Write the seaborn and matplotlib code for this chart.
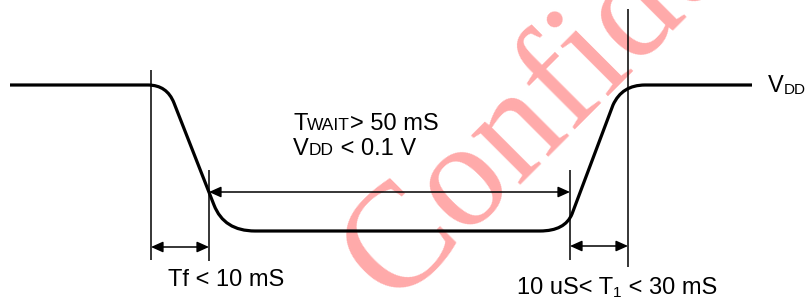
import seaborn as sns
import matplotlib.pyplot as plt
from matplotlib.path import Path
from matplotlib.patches import PathPatch

# waveform key points (pixel space, y down): high level -> fall -> low level -> rise -> high level
wave_t = [10, 148, 167, 174, 214, 224, 255, 540, 565, 572, 613, 622, 645, 752]
wave_v = [85, 85, 85, 103, 205, 231, 231, 231, 231, 214, 105, 85, 85, 85]
wave_codes = [Path.MOVETO, Path.LINETO, Path.CURVE3, Path.CURVE3, Path.LINETO,
              Path.CURVE3, Path.CURVE3, Path.LINETO, Path.CURVE3, Path.CURVE3,
              Path.LINETO, Path.CURVE3, Path.CURVE3, Path.LINETO]

# timing markers
marker_x = [151, 209, 570, 628]
marker_top = [70, 170, 170, 9]
marker_bottom = [260, 261, 260, 267]

# dimension arrows (start, end, height)
arrow_x0 = [151, 209, 570]
arrow_x1 = [209, 570, 628]
arrow_y = [247, 192, 246]

sns.set_theme(style="white")
plt.rcParams['font.family'] = ['Liberation Sans', 'DejaVu Sans']

fig = plt.figure(figsize=(8.08, 3.01), dpi=100)
ax = fig.add_axes([0, 0, 1, 1])
ax.set_xlim(0, 808)
ax.set_ylim(301, 0)
ax.axis('off')

# watermark
ax.text(393, 305, 'Confidential', rotation=45, rotation_mode='anchor',
        ha='left', va='baseline', fontsize=108, family='Liberation Serif',
        color='#ffaaaa', zorder=0)

wave = Path(list(zip(wave_t, wave_v)), wave_codes)
ax.add_patch(PathPatch(wave, facecolor='none', edgecolor='black', lw=2.3,
                       capstyle='butt', joinstyle='round', zorder=3))

ax.vlines(marker_x, marker_top, marker_bottom, color='black', lw=1.1, zorder=2)

for x0, x1, y in zip(arrow_x0, arrow_x1, arrow_y):
    ax.annotate('', xy=(x1, y), xytext=(x0, y),
                arrowprops=dict(arrowstyle='<|-|>,head_length=0.4,head_width=0.18',
                                mutation_scale=18, lw=1.1, color='black',
                                shrinkA=0, shrinkB=0), zorder=2)

renderer = fig.canvas.get_renderer()


def runs(x, y, parts):
    # parts: (text, fontsize, baseline shift in px)
    for txt, size, dy in parts:
        t = ax.text(x, y + dy, txt, fontsize=size, ha='left', va='baseline',
                    color='black', zorder=4)
        x = t.get_window_extent(renderer).x1


big, small, sub = 17, 12.5, 11
runs(293, 130, [('T', big, 0), ('WAIT', small, 0), ('> 50 mS', big, 0)])
runs(293, 155, [('V', big, 0), ('DD', small, 0), (' < 0.1 V', big, 0)])
runs(768, 92, [('V', big, 0), ('DD', sub, 2)])
runs(168, 286, [('Tf < 10 mS', big, 0)])
runs(517, 294, [('10 uS< T', big, 0), ('1', sub, 3), (' < 30 mS', big, 0)])

plt.savefig('out.png', dpi=100)
